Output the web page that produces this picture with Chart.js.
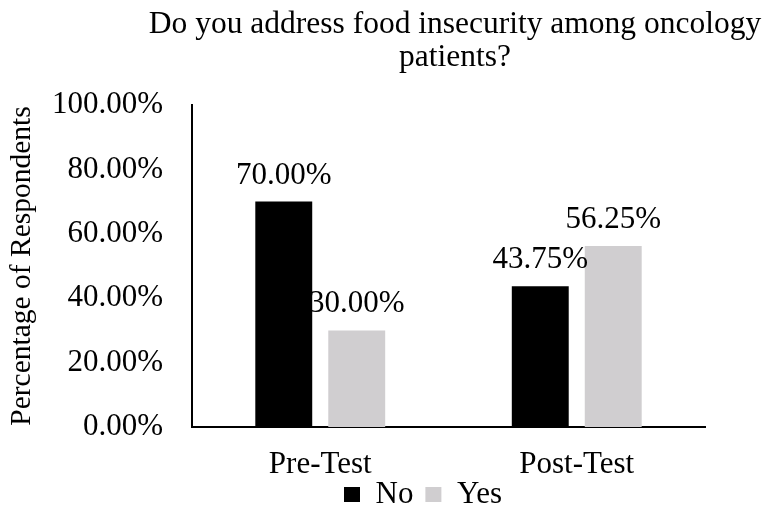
<!DOCTYPE html>
<html>
<head>
<meta charset="utf-8">
<script src="https://cdn.jsdelivr.net/npm/chart.js@4/dist/chart.umd.min.js"></script>
<style>
  html, body { margin: 0; padding: 0; background: #ffffff; }
  #wrap { width: 771px; height: 508px; }
</style>
</head>
<body>
<div id="wrap"><canvas id="chart" width="771" height="508"></canvas></div>
<script>
// Survey results, percent of respondents
const categories = ['Pre-Test', 'Post-Test'];
const seriesNames = ['No', 'Yes'];
const noValues = [70.00, 43.75];
const yesValues = [30.00, 56.25];
const yTicks = [0, 20, 40, 60, 80, 100];
const titleLines = ['Do you address food insecurity among oncology', 'patients?'];
const yAxisTitle = 'Percentage of Respondents';

const FONT = "'Liberation Serif', 'Times New Roman', serif";
const fmt = v => v.toFixed(2) + '%';

// Value labels above each bar
const barValueLabels = {
  id: 'barValueLabels',
  afterDatasetsDraw(chart) {
    const ctx = chart.ctx;
    ctx.save();
    ctx.font = '31px ' + FONT;
    ctx.fillStyle = '#000000';
    ctx.textAlign = 'center';
    ctx.textBaseline = 'alphabetic';
    chart.data.datasets.forEach((ds, i) => {
      const meta = chart.getDatasetMeta(i);
      meta.data.forEach((bar, j) => {
        ctx.fillText(fmt(ds.data[j]), bar.x, bar.y - 18);
      });
    });
    ctx.restore();
  }
};

// Place title and legend blocks where they belong; let the category
// labels use the space down to the legend
const blockOffsets = {
  id: 'blockOffsets',
  afterLayout(chart) {
    const t = chart.titleBlock;
    if (t) {
      const dx = 455 - (t.left + t.right) / 2;
      t.left += dx; t.right += dx;
    }
    const l = chart.legend;
    if (l) {
      const dx = 423 - (l.left + l.right) / 2;
      l.left += dx; l.right += dx;
      l.top += 12; l.bottom += 12;
    }
    const xs = chart.scales.x;
    xs.bottom = chart.height;
    xs.height = xs.bottom - xs.top;
  }
};

new Chart(document.getElementById('chart'), {
  type: 'bar',
  data: {
    labels: categories,
    datasets: [
      { label: seriesNames[0], data: noValues, backgroundColor: '#000000', borderWidth: 0 },
      { label: seriesNames[1], data: yesValues, backgroundColor: '#D0CED0', borderWidth: 0 }
    ]
  },
  options: {
    responsive: false,
    animation: false,
    events: [],
    categoryPercentage: 0.569,
    barPercentage: 0.78,
    layout: { padding: { left: 0, right: 66, top: 0, bottom: 0 } },
    plugins: {
      title: {
        display: true,
        text: titleLines,
        color: '#000000',
        font: { family: FONT, size: 31.5, weight: 'normal', lineHeight: 33 / 31.5 },
        padding: { top: 8, bottom: 31 }
      },
      legend: {
        display: true,
        position: 'bottom',
        fullSize: false,
        labels: {
          color: '#000000',
          font: { family: FONT, size: 31 },
          boxWidth: 16,
          boxHeight: 15,
          padding: 12
        }
      },
      tooltip: { enabled: false }
    },
    scales: {
      x: {
        grid: { display: false, drawTicks: false },
        border: { display: true, color: '#000000', width: 2 },
        ticks: { color: '#000000', font: { family: FONT, size: 31 }, padding: 19, maxRotation: 0 },
        afterFit(scale) { scale.height = 28; }
      },
      y: {
        min: 0,
        max: 100,
        afterBuildTicks(scale) { scale.ticks = yTicks.map(v => ({ value: v })); },
        grid: { display: false, drawTicks: false },
        border: { display: true, color: '#000000', width: 2 },
        ticks: {
          color: '#000000',
          font: { family: FONT, size: 31 },
          padding: 29,
          callback: v => fmt(v)
        },
        title: {
          display: true,
          text: yAxisTitle,
          color: '#000000',
          font: { family: FONT, size: 29.5 },
          padding: { top: 5, bottom: 0 }
        },
        afterFit(scale) { scale.width = 192; }
      }
    }
  },
  plugins: [barValueLabels, blockOffsets]
});
</script>
</body>
</html>
